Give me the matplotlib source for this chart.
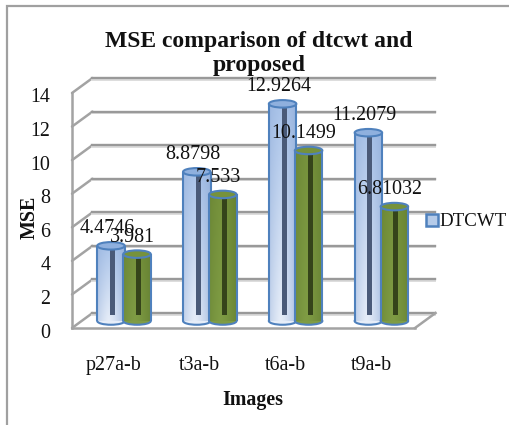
import numpy as np
import matplotlib
matplotlib.use("Agg")
import matplotlib.pyplot as plt
from matplotlib.patches import Ellipse, Patch, Rectangle
from matplotlib.colors import to_rgb
from matplotlib.transforms import ScaledTranslation

categories = ["p27a-b", "t3a-b", "t6a-b", "t9a-b"]
dtcwt = [4.4746, 8.8798, 12.9264, 11.2079]
proposed = [3.981, 7.533, 10.1499, 6.81032]
dtcwt_labels = ["4.4746", "8.8798", "12.9264", "11.2079"]
proposed_labels = ["3.981", "7.533", "10.1499", "6.81032"]
yticks = [0, 2, 4, 6, 8, 10, 12, 14]

W, H = 510, 425
plt.rcParams["font.family"] = ["Liberation Serif", "DejaVu Serif"]
fig = plt.figure(figsize=(W / 100, H / 100), dpi=100, facecolor="white")


def axes_px(left, right, top, bottom, **kw):
    return fig.add_axes([left / W, 1 - bottom / H, (right - left) / W, (bottom - top) / H], **kw)


PX_X = 85.8      # pixels per category
PX_Y = 16.8      # pixels per unit
X0 = 124.0       # pixel of first bar group
X0_WALL = 114.0  # pixel of first category label on the front axis
FS = 14.4
GRAY = "#a3a3a3"
BLUE_EDGE = "#4f81bd"

# picture frame
fig.add_artist(Rectangle((7.5 / W, -0.05), 1.1, 1 - 5.5 / H + 0.05, transform=fig.transFigure,
                         fill=False, ec="#a0a0a0", lw=1.6))

# wall: front-left axis with the ticks
wall = axes_px(72, 415, 93, 328, zorder=1)
wall.patch.set_visible(False)
wall.set_xlim((72 - X0_WALL) / PX_X, (415 - X0_WALL) / PX_X)
wall.set_ylim(0, 14)
for s in ("top", "right"):
    wall.spines[s].set_visible(False)
for s in ("left", "bottom"):
    wall.spines[s].set_color(GRAY)
    wall.spines[s].set_linewidth(1.8)
wall.set_yticks(yticks)
wall.set_yticklabels([str(t) for t in yticks], fontsize=FS, color="#111111")
wall.set_xticks(range(len(categories)))
wall.set_xticklabels(categories, fontsize=FS, color="#111111")
wall.tick_params(axis="y", length=0, pad=15.5)
wall.tick_params(axis="x", length=0, pad=20.5)
shift = ScaledTranslation(0, -2.5 / 100, fig.dpi_scale_trans)
for lab in wall.get_yticklabels():
    lab.set_transform(lab.get_transform() + shift)

dx, dy = 20.5 / PX_X, 15 / PX_Y
xlo, xhi = wall.get_xlim()
for t in yticks:
    wall.plot([xlo, xlo + dx], [t, t + dy], color=GRAY, lw=1.8, clip_on=False, solid_capstyle="round")
    wall.plot([xlo + dx, xhi + dx], [t + dy - 0.09, t + dy - 0.09], color="#dddddd", lw=1.4, clip_on=False)
    wall.plot([xlo + dx, xhi + dx], [t + dy, t + dy], color="#999999", lw=1.7, clip_on=False)
wall.plot([xhi, xhi + dx], [0, dy], color=GRAY, lw=1.8, clip_on=False)

# bars
ax = axes_px(72, 436, 78, 328, zorder=2)
ax.patch.set_visible(False)
ax.axis("off")
ax.set_xlim((72 - X0) / PX_X, (436 - X0) / PX_X)
ax.set_ylim(-7 / PX_Y, (321 - 78) / PX_Y)
limits = (ax.get_xlim(), ax.get_ylim())

BW = 27.5 / PX_X
OFF = 13.0 / PX_X
EH = 7.5 / PX_Y
STRIP = 5.0 / PX_X


def shade(side, top, bottom):
    """Horizontal cylinder shading combined with a vertical fade."""
    u = np.linspace(0, 1, 40)
    s = np.clip(1 - 1.3 * np.abs(u - 0.42) ** 1.3, 0, 1)[None, :, None]
    v = np.linspace(0, 1, 60)[:, None, None]
    base = np.array(to_rgb(top))[None, None, :] * (1 - v) + np.array(to_rgb(bottom))[None, None, :] * v
    return np.clip(np.array(to_rgb(side))[None, None, :] * (1 - s) + base * s, 0, 1)


def cylinder(x, h, side, top, bottom, cap, strip, z):
    ax.add_patch(Ellipse((x, 0), BW, EH, fc=bottom, ec=BLUE_EDGE, lw=1.5, zorder=z))
    bar = ax.bar(x, h, BW, color="none", lw=0, zorder=z)[0]
    im = ax.imshow(shade(side, top, bottom), extent=(x - BW / 2, x + BW / 2, 0, h),
                   aspect="auto", origin="upper", zorder=z + 0.1, interpolation="bilinear")
    im.set_clip_path(bar)
    ax.bar(x + 1.5 / PX_X, h - 0.35, STRIP, bottom=0.35, color=strip, lw=0, zorder=z + 0.2)
    ax.vlines([x - BW / 2, x + BW / 2], 0, h, color=BLUE_EDGE, lw=1.5, zorder=z + 0.3)
    ax.add_patch(Ellipse((x, h), BW, EH, fc=cap, ec=BLUE_EDGE, lw=1.5, zorder=z + 0.4))


for i, (a, b) in enumerate(zip(dtcwt, proposed)):
    cylinder(i - OFF, a, "#8eaad6", "#a9c3e9", "#e6edf8", "#8fb0de", "#4a5a78", 3)
    cylinder(i + OFF, b, "#5f7a2e", "#76923c", "#7f9c44", "#76923c", "#35441a", 4)
    ax.annotate(dtcwt_labels[i], (i - OFF, a), xytext=(-3.5 * 0.72, 17 * 0.72), textcoords="offset points",
                ha="center", va="center", fontsize=FS, color="#111111", zorder=8, annotation_clip=False)
    ax.annotate(proposed_labels[i], (i + OFF, b), xytext=(-5 * 0.72, 17 * 0.72), textcoords="offset points",
                ha="center", va="center", fontsize=FS, color="#111111", zorder=8, annotation_clip=False)
ax.set_xlim(limits[0])
ax.set_ylim(limits[1])

fig.text(259 / W, 1 - 53.5 / H, "MSE comparison of dtcwt and\nproposed", ha="center", va="center",
         fontsize=17, fontweight="bold", color="#111111", linespacing=1.2, zorder=9)
fig.text(30 / W, 1 - 217 / H, "MSE", rotation=90, ha="center", va="center",
         fontsize=FS, fontweight="bold", color="#111111", zorder=9)
fig.text(253 / W, 1 - 399.5 / H, "Images", ha="center", va="center",
         fontsize=FS, fontweight="bold", color="#111111", zorder=9)

fig.legend(handles=[Patch(fc="#b5cbe9", ec=BLUE_EDGE, lw=1.8, label="DTCWT")],
           loc="center left", bbox_to_anchor=(426 / W, 1 - 222 / H), frameon=False,
           fontsize=13.6, borderpad=0, borderaxespad=0, handlelength=0.62, handleheight=0.62,
           handletextpad=0.1, labelcolor="#111111")

fig.savefig("out.png", dpi=100, facecolor="white")
